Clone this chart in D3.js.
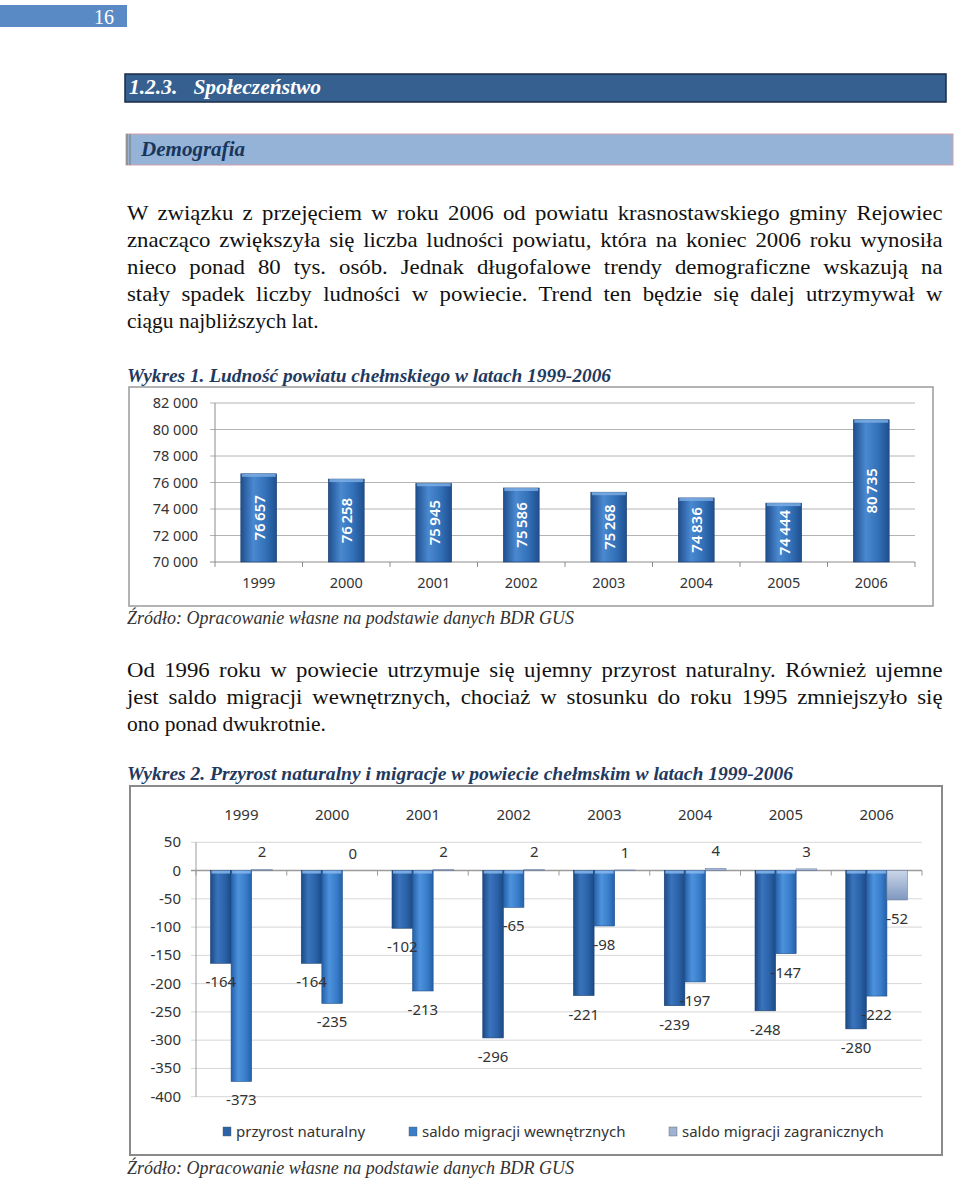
<!DOCTYPE html>
<html>
<head>
<meta charset="utf-8">
<script src="https://cdn.jsdelivr.net/npm/d3@7"></script>
<style>
  body { margin: 0; background: #fff; }
  svg { display: block; }
</style>
</head>
<body>
<svg id="page" width="960" height="1181"></svg>
<script>
// ---- data ----
const years = ['1999', '2000', '2001', '2002', '2003', '2004', '2005', '2006'];
const population = [76657, 76258, 75945, 75586, 75268, 74836, 74444, 80735];
const populationTicks = [70000, 72000, 74000, 76000, 78000, 80000, 82000];

const naturalGrowth = [-164, -164, -102, -296, -221, -239, -248, -280];
const internalMigration = [-373, -235, -213, -65, -98, -197, -147, -222];
const foreignMigration = [2, 0, 2, 2, 1, 4, 3, -52];
const seriesNames = ['przyrost naturalny', 'saldo migracji wewnętrznych', 'saldo migracji zagranicznych'];
const growthTicks = [50, 0, -50, -100, -150, -200, -250, -300, -350, -400];

const para1 = [
    'W związku z przejęciem w roku 2006 od powiatu krasnostawskiego gminy Rejowiec',
    'znacząco zwiększyła się liczba ludności powiatu, która na koniec 2006 roku wynosiła',
    'nieco ponad 80 tys. osób. Jednak długofalowe trendy demograficzne wskazują na',
    'stały spadek liczby ludności w powiecie. Trend ten będzie się dalej utrzymywał w',
    'ciągu najbliższych lat.'
];
const para2 = [
    'Od 1996 roku w powiecie utrzymuje się ujemny przyrost naturalny. Również ujemne',
    'jest saldo migracji wewnętrznych, chociaż w stosunku do roku 1995 zmniejszyło się',
    'ono ponad dwukrotnie.'
];

const pl = d3.formatLocale({decimal: ',', thousands: '\u2009', grouping: [3], currency: ['', ' zł']});
const fmt = pl.format(',d');

const svg = d3.select('#page');
const serif = '"Liberation Serif", "DejaVu Serif", serif';
const sans = '"Noto Sans", "Open Sans", sans-serif';

// ---- gradients ----
const defs = svg.append('defs');
const hGrad = (id, edge, mid, light) => {
    const g = defs.append('linearGradient').attr('id', id).attr('x1', 0).attr('x2', 1).attr('y1', 0).attr('y2', 0);
    g.append('stop').attr('offset', '0%').attr('stop-color', edge);
    g.append('stop').attr('offset', '35%').attr('stop-color', light);
    g.append('stop').attr('offset', '70%').attr('stop-color', mid);
    g.append('stop').attr('offset', '100%').attr('stop-color', edge);
};
hGrad('gPop', '#1f4f8e', '#3270b8', '#4a88d0');
hGrad('gNat', '#1c4a86', '#2b62a8', '#3a74bd');
hGrad('gInt', '#2460a8', '#3a7ecb', '#4d92dc');
const vg = defs.append('linearGradient').attr('id', 'gFor').attr('x1', 0).attr('x2', 0).attr('y1', 0).attr('y2', 1);
vg.append('stop').attr('offset', '0%').attr('stop-color', '#c9d6e8');
vg.append('stop').attr('offset', '100%').attr('stop-color', '#7f97bf');

// ---- page furniture ----
svg.append('rect').attr('x', 0).attr('y', 5).attr('width', 127).attr('height', 22).attr('fill', '#5a8ac6');
svg.append('text').attr('x', 114).attr('y', 24).attr('text-anchor', 'end')
    .attr('font-family', serif).attr('font-size', 20).attr('fill', '#fff').text('16');

svg.append('rect').attr('x', 125).attr('y', 74).attr('width', 821).attr('height', 28)
    .attr('fill', '#36608f').attr('stroke', '#1b2a44').attr('stroke-width', 1.5);
svg.append('text').attr('x', 129).attr('y', 94).attr('font-family', serif).attr('font-size', 20)
    .attr('font-weight', 'bold').attr('font-style', 'italic').attr('fill', '#fff')
    .attr('textLength', 192).attr('lengthAdjust', 'spacingAndGlyphs')
    .attr('xml:space', 'preserve').text('1.2.3.   Społeczeństwo');

svg.append('rect').attr('x', 126).attr('y', 134).attr('width', 827).attr('height', 31)
    .attr('fill', '#95b3d7').attr('stroke', '#d4a0a8').attr('stroke-width', 1);
svg.append('line').attr('x1', 127).attr('x2', 127).attr('y1', 134).attr('y2', 165).attr('stroke', '#8a8a8a').attr('stroke-width', 1.5);
svg.append('line').attr('x1', 130).attr('x2', 130).attr('y1', 134).attr('y2', 165).attr('stroke', '#8a8a8a').attr('stroke-width', 1.5);
svg.append('text').attr('x', 141).attr('y', 156).attr('font-family', serif).attr('font-size', 20)
    .attr('font-weight', 'bold').attr('font-style', 'italic').attr('fill', '#17365d')
    .attr('textLength', 104).attr('lengthAdjust', 'spacingAndGlyphs').text('Demografia');

// justify: widen glyphs a little (the original face is wider), then open the word gaps
const paragraph = (lines, y0) => {
    lines.forEach((t, i) => {
        const el = svg.append('text').attr('font-family', serif).attr('font-size', 21.5)
            .attr('fill', '#111').text(t);
        const last = i === lines.length - 1;
        const w = el.node().getComputedTextLength();
        const s = last ? 1 : Math.min(1.06, 816 / w);
        el.attr('transform', `translate(127,${y0 + i * 27}) scale(${s},1)`);
        if (!last && s * w < 816) {
            const gaps = t.split(' ').length - 1;
            el.attr('word-spacing', (816 / s - w) / gaps);
        }
    });
};
paragraph(para1, 220);
paragraph(para2, 677);

const caption = (t, y, w, bold, color) => {
    svg.append('text').attr('x', 127).attr('y', y).attr('font-family', serif).attr('font-size', 18)
        .attr('font-style', 'italic').attr('font-weight', bold ? 'bold' : 'normal').attr('fill', color)
        .attr('textLength', w).attr('lengthAdjust', 'spacingAndGlyphs').text(t);
};
caption('Wykres 1. Ludność powiatu chełmskiego w latach 1999-2006', 382, 484, true, '#1f3a60');
caption('Źródło: Opracowanie własne na podstawie danych BDR GUS', 624, 447, false, '#333');
caption('Wykres 2. Przyrost naturalny i migracje w powiecie chełmskim w latach 1999-2006', 780, 666, true, '#1f3a60');
caption('Źródło: Opracowanie własne na podstawie danych BDR GUS', 1174, 447, false, '#333');

// ---- chart 1 ----
const c1 = svg.append('g');
c1.append('rect').attr('x', 129).attr('y', 387).attr('width', 804).attr('height', 219)
    .attr('fill', '#fff').attr('stroke', '#9a9a9a').attr('stroke-width', 1.5);

const x1 = d3.scaleBand().domain(years).range([215, 915]).paddingInner(0.59).paddingOuter(0.295);
const y1 = d3.scaleLinear().domain([70000, 82000]).range([562, 403]);

c1.selectAll('.grid').data(populationTicks).join('line')
    .attr('x1', 210).attr('x2', 915).attr('y1', d => y1(d)).attr('y2', d => y1(d))
    .attr('stroke', d => d === 70000 ? '#8c8c8c' : '#b4b4b4').attr('stroke-width', 1);
c1.append('line').attr('x1', 215).attr('x2', 215).attr('y1', 403).attr('y2', 562).attr('stroke', '#8c8c8c');
c1.selectAll('.ytl').data(populationTicks).join('text')
    .attr('x', 198).attr('y', d => y1(d) + 5).attr('text-anchor', 'end')
    .attr('font-family', sans).attr('font-size', 14.5).attr('fill', '#333')
    .text(d => fmt(d).replace('\u2009', ' '));
const step1 = x1.step();
c1.selectAll('.xt').data(d3.range(years.length + 1)).join('line')
    .attr('x1', i => 215 + i * step1).attr('x2', i => 215 + i * step1)
    .attr('y1', 562).attr('y2', 567).attr('stroke', '#8c8c8c');
c1.selectAll('.xtl').data(years).join('text')
    .attr('x', d => x1(d) + x1.bandwidth() / 2).attr('y', 588).attr('text-anchor', 'middle')
    .attr('font-family', sans).attr('font-size', 14.5).attr('fill', '#333').text(d => d);

const bars1 = c1.selectAll('.bar').data(population).join('g');
bars1.append('rect')
    .attr('x', (d, i) => x1(years[i])).attr('width', x1.bandwidth())
    .attr('y', d => y1(d)).attr('height', d => y1(70000) - y1(d))
    .attr('fill', 'url(#gPop)').attr('stroke', '#1b3f70').attr('stroke-width', 0.6);
bars1.append('rect')
    .attr('x', (d, i) => x1(years[i]) + 1).attr('width', x1.bandwidth() - 2)
    .attr('y', d => y1(d)).attr('height', 3).attr('fill', '#7fb0e6').attr('opacity', 0.8);
bars1.append('text')
    .attr('transform', (d, i) => `translate(${x1(years[i]) + x1.bandwidth() / 2 + 6},${(y1(d) + y1(70000)) / 2}) rotate(-90)`)
    .attr('text-anchor', 'middle').attr('font-family', sans).attr('font-size', 15).attr('font-weight', 600)
    .attr('fill', '#fff').text(d => fmt(d));

// ---- chart 2 ----
const c2 = svg.append('g');
c2.append('rect').attr('x', 130).attr('y', 786).attr('width', 812).attr('height', 369)
    .attr('fill', '#fff').attr('stroke', '#8a8a8a').attr('stroke-width', 2);

const x0 = d3.scaleBand().domain(years).range([196, 922]).paddingInner(0.32).paddingOuter(0.16);
const xs = d3.scaleBand().domain(seriesNames).range([0, x0.bandwidth()]);
const y2 = d3.scaleLinear().domain([-400, 50]).range([1096.7, 842.3]);

c2.selectAll('.grid').data(growthTicks).join('line')
    .attr('x1', 191).attr('x2', 922).attr('y1', d => y2(d)).attr('y2', d => y2(d))
    .attr('stroke', d => d === 0 ? '#9a9a9a' : '#d6d6d6').attr('stroke-width', d => d === 0 ? 1.5 : 1);
c2.append('line').attr('x1', 196).attr('x2', 196).attr('y1', y2(50)).attr('y2', y2(-400)).attr('stroke', '#9a9a9a');
c2.selectAll('.ytl').data(growthTicks).join('text')
    .attr('x', 181).attr('y', d => y2(d) + 5).attr('text-anchor', 'end')
    .attr('font-family', sans).attr('font-size', 15).attr('fill', '#333').text(d => d);
const step2 = x0.step();
c2.selectAll('.xt').data(d3.range(years.length + 1)).join('line')
    .attr('x1', i => 196 + i * step2).attr('x2', i => 196 + i * step2)
    .attr('y1', y2(0)).attr('y2', y2(0) + 5).attr('stroke', '#9a9a9a');
c2.selectAll('.xtl').data(years).join('text')
    .attr('x', d => x0(d) + x0.bandwidth() / 2).attr('y', 820).attr('text-anchor', 'middle')
    .attr('font-family', sans).attr('font-size', 15).attr('fill', '#333').text(d => d);

const fills = ['url(#gNat)', 'url(#gInt)', 'url(#gFor)'];
const strokes = ['#173e70', '#1f4f8c', '#6d7f9e'];
const series = [naturalGrowth, internalMigration, foreignMigration];
const rows = [];
series.forEach((vals, s) => vals.forEach((v, i) => rows.push({s, year: years[i], v})));
const barX = d => x0(d.year) + xs(seriesNames[d.s]);

const bars2 = c2.append('g').selectAll('.bar').data(rows).join('g');
bars2.append('rect')
    .attr('x', barX).attr('width', xs.bandwidth())
    .attr('y', d => y2(Math.max(0, d.v))).attr('height', d => Math.abs(y2(d.v) - y2(0)))
    .attr('fill', d => fills[d.s]).attr('stroke', d => strokes[d.s]).attr('stroke-width', 0.6);
bars2.filter(d => d.v < 0 && d.s < 2).append('rect')
    .attr('x', d => barX(d) + 1).attr('width', xs.bandwidth() - 2)
    .attr('y', y2(0)).attr('height', 3).attr('fill', '#8cbcf0').attr('opacity', 0.8);

// labels in their own layer so they sit on top of neighbouring bars
c2.append('g').selectAll('text').data(rows).join('text')
    .attr('x', d => barX(d) + xs.bandwidth() / 2)
    .attr('y', d => d.v < 0 ? y2(d.v) + 24 : y2(d.v) - 12)
    .attr('text-anchor', 'middle').attr('font-family', sans).attr('font-size', 15).attr('fill', '#333')
    .text(d => d.v);

// legend
const legendX = [223, 409, 669];
const legendFill = ['#2b62a8', '#3a7ecb', '#9fb2d2'];
const lg = c2.selectAll('.lg').data(seriesNames).join('g')
    .attr('transform', (d, i) => `translate(${legendX[i]},1132)`);
lg.append('rect').attr('x', 0).attr('y', -5).attr('width', 8).attr('height', 9)
    .attr('fill', (d, i) => legendFill[i]).attr('stroke', '#555').attr('stroke-width', 0.4);
lg.append('text').attr('x', 13).attr('y', 5).attr('font-family', sans).attr('font-size', 15)
    .attr('fill', '#333').text(d => d);
</script>
</body>
</html>
